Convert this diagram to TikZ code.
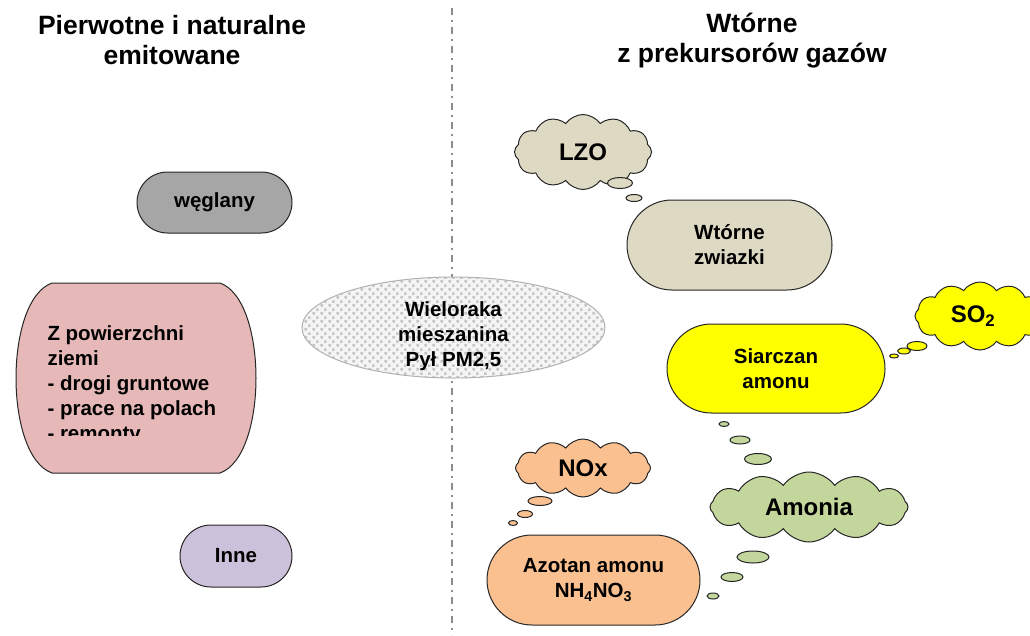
\documentclass[tikz,border=0pt]{standalone}
\usepackage{fontspec}
\setmainfont{Liberation Sans}
\usetikzlibrary{shapes.misc,shapes.symbols,shapes.geometric,patterns.meta}

\definecolor{cgray}{HTML}{A6A6A6}
\definecolor{cpink}{HTML}{E6B9B8}
\definecolor{clila}{HTML}{CCC1DA}
\definecolor{ctan}{HTML}{DDD9C3}
\definecolor{cyel}{HTML}{FFFF00}
\definecolor{corange}{HTML}{FAC090}
\definecolor{cgreen}{HTML}{C3D69B}

\tikzdeclarepattern{
  name=pmdots, type=uncolored,
  bottom left={(0pt,0pt)}, top right={(8pt,8pt)}, tile size={(8pt,8pt)},
  code={\fill (0.5pt,0.5pt) rectangle (3.5pt,3.5pt);
        \fill (4.5pt,4.5pt) rectangle (7.5pt,7.5pt);}
}

\begin{document}
\begin{tikzpicture}[x=1pt, y=-1pt, line width=1pt,
  head/.style={font=\bfseries\fontsize{26.5}{30}\selectfont, align=center, inner sep=0pt},
  txt/.style={font=\bfseries\fontsize{20.5}{25}\selectfont, inner sep=0pt},
  pill/.style={rounded rectangle, draw=black!85, txt, align=center},
  cloudy/.style={cloud, cloud puffs=12, cloud puff arc=110, cloud ignores aspect, draw=black!85,
    inner sep=0pt, font=\bfseries\fontsize{24}{28}\selectfont},
  bub/.style={ellipse, draw=black!85, inner sep=0pt},
  divider/.style={draw=black!45, line width=2pt, dash pattern=on 7pt off 5pt on 2pt off 5pt}]
  \useasboundingbox (0,0) rectangle (1030,635);
  % linia podzialu
  \coordinate (dtop) at (452,8);
  \coordinate (dbot) at (452,635);
  \draw[divider] (dtop) -- (dbot);
  % naglowki
  \node[head] (h1) at (172,40) {Pierwotne i naturalne\\emitowane};
  \node[head] (h2) at (752,41) {Wtórne\\z prekursorów gazów};
  % lewa strona
  \node[pill, fill=cgray, minimum width=155, minimum height=61] (weglany) at (214.5,202.5) {węglany};
  \draw[draw=black!85, fill=cpink] (52,283) -- (220,283)
    .. controls (268,300) and (268,456) .. (220,473) -- (52,473)
    .. controls (4,456) and (4,300) .. (52,283) -- cycle;
  \begin{scope}
    \clip (15,283) rectangle (257,435);
    \node[txt, anchor=north west, align=left] (zlist) at (47,325)
      {Z powierzchni\\ziemi\\- drogi gruntowe\\- prace na polach\\- remonty};
  \end{scope}
  \node[pill, fill=clila, minimum width=112, minimum height=62] (inne) at (236,556) {Inne};
  % srodek
  \node[ellipse, draw=black!30, preaction={fill=gray!8}, pattern=pmdots, pattern color=gray!45,
    minimum width=303, minimum height=101, inner sep=0pt] (pm) at (453.5,327.5) {};
  \node[txt, align=center] (pmtxt) at (453.5,336) {Wieloraka\\mieszanina\\Pył PM2,5};
  % prawa strona
  \node[cloudy, fill=ctan, minimum width=137, minimum height=75] (lzo) at (583,152) {LZO};
  \node[bub, fill=ctan, minimum width=25, minimum height=11] (l1) at (620,183) {};
  \node[bub, fill=ctan, minimum width=16, minimum height=7] (l2) at (634,198) {};
  \node[pill, fill=ctan, minimum width=205, minimum height=90] (wtorne) at (729.5,245) {Wtórne\\zwiazki};
  \node[pill, fill=cyel, minimum width=218, minimum height=89] (siarczan) at (776,368.5) {Siarczan\\amonu};
  \node[cloudy, fill=cyel, minimum width=130, minimum height=68] (so2) at (980,316) {SO\textsubscript{2}\hspace*{14pt}};
  \node[bub, fill=cyel, minimum width=20, minimum height=9] (s1) at (917,346) {};
  \node[bub, fill=cyel, minimum width=13, minimum height=6] (s2) at (904,351) {};
  \node[bub, fill=cyel, minimum width=9, minimum height=4] (s3) at (894,356) {};
  \node[cloudy, fill=cgreen, minimum width=198, minimum height=70] (amonia) at (809,507) {Amonia};
  \node[bub, fill=cgreen, minimum width=27, minimum height=11] (a1) at (758,459) {};
  \node[bub, fill=cgreen, minimum width=20, minimum height=8] (a2) at (740,440) {};
  \node[bub, fill=cgreen, minimum width=10, minimum height=5] (a3) at (724,424) {};
  \node[bub, fill=cgreen, minimum width=32, minimum height=12] (a4) at (753,557) {};
  \node[bub, fill=cgreen, minimum width=22, minimum height=9] (a5) at (732,577) {};
  \node[bub, fill=cgreen, minimum width=12, minimum height=6] (a6) at (713,596) {};
  \node[cloudy, fill=corange, minimum width=135, minimum height=58] (nox) at (583,468) {NOx};
  \node[bub, fill=corange, minimum width=24, minimum height=9] (n1) at (540,501) {};
  \node[bub, fill=corange, minimum width=15, minimum height=7] (n2) at (525,514) {};
  \node[bub, fill=corange, minimum width=9, minimum height=5] (n3) at (513,523) {};
  \node[pill, fill=corange, minimum width=213, minimum height=90] (azotan) at (593.5,580) {Azotan amonu\\NH\textsubscript{4}NO\textsubscript{3}};
\end{tikzpicture}
\end{document}
